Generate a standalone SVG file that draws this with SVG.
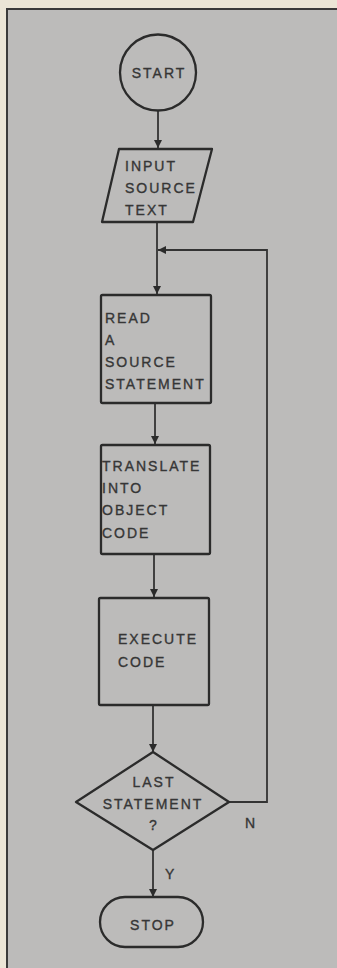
<svg xmlns="http://www.w3.org/2000/svg" width="337" height="968" viewBox="0 0 337 968">
<style>
.shape{fill:none;stroke:#2b2b2b;stroke-width:2.3;stroke-linejoin:round}
.conn{fill:none;stroke:#333;stroke-width:1.8}
.t{font-family:"Liberation Sans",Arial,sans-serif;font-size:14px;fill:#363636;stroke:#363636;stroke-width:0.35;letter-spacing:2px}
.c{text-anchor:middle}
</style>
<defs>
<marker id="ah" viewBox="0 0 10 10" refX="10" refY="5" markerWidth="9" markerHeight="8" markerUnits="userSpaceOnUse" orient="auto">
<path d="M0,0 L10,5 L0,10 Z" fill="#2b2b2b"/>
</marker>
</defs>
<rect x="0" y="0" width="337" height="968" fill="#ebe5d6"/>
<rect x="7" y="9" width="340" height="970" fill="#bcbbba" stroke="#3a3a3a" stroke-width="2"/>
<g id="connectors">
<path class="conn" d="M158,111 V148" marker-end="url(#ah)"/>
<path class="conn" d="M157,222 V294" marker-end="url(#ah)"/>
<path class="conn" d="M155,403 V444" marker-end="url(#ah)"/>
<path class="conn" d="M154,554 V597" marker-end="url(#ah)"/>
<path class="conn" d="M153,705 V752" marker-end="url(#ah)"/>
<path class="conn" d="M153,850 V897" marker-end="url(#ah)"/>
<path class="conn" d="M229,802 H267 V250 H158" marker-end="url(#ah)"/>
<text class="t" x="245" y="828">N</text>
<text class="t" x="165" y="879">Y</text>
</g>
<g id="start">
<circle class="shape" cx="158" cy="72.5" r="38"/>
<text class="t c" x="159" y="78">START</text>
</g>
<g id="input">
<path class="shape" d="M119,149 H212 L193,222 H102 Z"/>
<text class="t" x="125" y="171">INPUT</text>
<text class="t" x="125" y="193">SOURCE</text>
<text class="t" x="125" y="215">TEXT</text>
</g>
<g id="read">
<rect class="shape" x="101" y="295" width="110" height="108" rx="1.5"/>
<text class="t" x="105" y="323">READ</text>
<text class="t" x="105" y="345">A</text>
<text class="t" x="105" y="367">SOURCE</text>
<text class="t" x="105" y="389">STATEMENT</text>
</g>
<g id="translate">
<rect class="shape" x="101" y="445" width="109" height="109" rx="1.5"/>
<text class="t" x="102" y="471" letter-spacing="2.5">TRANSLATE</text>
<text class="t" x="102" y="493">INTO</text>
<text class="t" x="102" y="515">OBJECT</text>
<text class="t" x="102" y="538">CODE</text>
</g>
<g id="execute">
<rect class="shape" x="99" y="598" width="110" height="107" rx="1.5"/>
<text class="t" x="118" y="644">EXECUTE</text>
<text class="t" x="118" y="667">CODE</text>
</g>
<g id="decision">
<path class="shape" d="M153,752 L229,802 L153,850 L76,802 Z"/>
<text class="t c" x="154" y="787">LAST</text>
<text class="t c" x="153" y="809">STATEMENT</text>
<text class="t c" x="154" y="830">?</text>
</g>
<g id="stop">
<rect class="shape" x="100" y="897" width="103" height="50" rx="25"/>
<text class="t c" x="153" y="930">STOP</text>
</g>
</svg>
